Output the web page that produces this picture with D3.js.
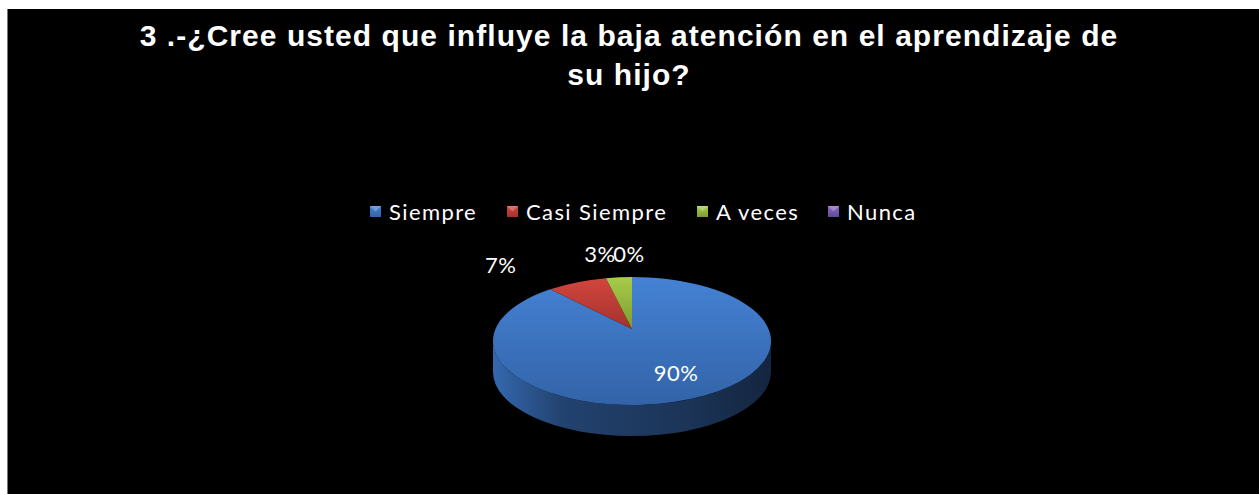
<!DOCTYPE html>
<html>
<head>
<meta charset="utf-8">
<script src="https://cdn.jsdelivr.net/npm/d3@7"></script>
<style>
  body { margin: 0; background: #fff; }
  svg { display: block; }
</style>
</head>
<body>
<div id="chart"></div>
<script>
var categories = ["Siempre", "Casi Siempre", "A veces", "Nunca"];
var values = [90, 7, 3, 0];
var titleLines = ["3 .-¿Cree usted que influye la baja atención en el aprendizaje de", "su hijo?"];

var svgW = 1259;
var svgH = 494;

var svg = d3.select("#chart")
  .append("svg")
  .attr("width", svgW)
  .attr("height", svgH);

var defs = svg.append("defs");

// black chart area, with thin grey edge on the left
svg.append("rect")
  .attr("x", 7).attr("y", 9)
  .attr("width", svgW - 7).attr("height", svgH - 9)
  .attr("fill", "#000");
svg.append("line")
  .attr("x1", 7.5).attr("x2", 7.5)
  .attr("y1", 9).attr("y2", svgH)
  .attr("stroke", "#777").attr("stroke-width", 1);

// title
svg.append("g").selectAll("text")
  .data(titleLines)
  .enter()
  .append("text")
  .attr("x", 629)
  .attr("y", (d, i) => 46 + i * 39)
  .attr("text-anchor", "middle")
  .attr("fill", "#fff")
  .attr("font-family", "Liberation Sans, Arial, sans-serif")
  .attr("font-weight", "bold")
  .attr("font-size", "30px")
  .attr("letter-spacing", "1.05px")
  .text(d => d);

var colors = d3.scaleOrdinal()
  .domain(categories)
  .range([
    ["#4582d4", "#3263a8"],
    ["#d2463f", "#a3322c"],
    ["#a8cc4a", "#7d9c30"],
    ["#8a68c0", "#63489a"]
  ]);

categories.forEach(function(c, i) {
  var g = defs.append("linearGradient")
    .attr("id", "grad" + i)
    .attr("x1", 0).attr("y1", 0).attr("x2", 0).attr("y2", 1);
  g.append("stop").attr("offset", "0%").attr("stop-color", colors(c)[0]);
  g.append("stop").attr("offset", "100%").attr("stop-color", colors(c)[1]);
});

// side gradient (front wall of the 3d pie)
var side = defs.append("linearGradient")
  .attr("id", "sideGrad")
  .attr("x1", 0).attr("y1", 0).attr("x2", 1).attr("y2", 0);
side.append("stop").attr("offset", "0%").attr("stop-color", "#3468ae");
side.append("stop").attr("offset", "25%").attr("stop-color", "#22426f");
side.append("stop").attr("offset", "70%").attr("stop-color", "#1b3457");
side.append("stop").attr("offset", "100%").attr("stop-color", "#14253f");

// legend
var legendFont = "Lato, 'Noto Sans', sans-serif";
var legend = svg.append("g");
var legendX = [370, 507, 697, 828];
categories.forEach(function(c, i) {
  var item = legend.append("g")
    .attr("transform", `translate(${legendX[i]}, 206)`);
  item.append("rect")
    .attr("width", 11).attr("height", 11)
    .attr("fill", "url(#grad" + i + ")");
  item.append("path")
    .attr("d", "M0,0 L11,0 L5.5,5.5 Z")
    .attr("fill", "#fff").attr("opacity", 0.25);
  item.append("text")
    .attr("x", 19)
    .attr("y", 14)
    .attr("fill", "#fff")
    .attr("font-family", legendFont)
    .attr("font-size", "22px")
    .attr("letter-spacing", "1.4px")
    .text(c);
});

// 3d pie
var cx = 632, cy = 341, rx = 139, ry = 64, depth = 31;
var apexY = 329;

function pt(a) {
  return [cx + rx * Math.sin(a), cy - ry * Math.cos(a)];
}

var pie = d3.pie().sort(null).value(d => d)(values);

var pieG = svg.append("g");

pieG.append("path")
  .attr("d", `M${cx - rx},${cy} A${rx},${ry} 0 0 0 ${cx + rx},${cy} L${cx + rx},${cy + depth} A${rx},${ry} 0 0 1 ${cx - rx},${cy + depth} Z`)
  .attr("fill", "url(#sideGrad)");

pieG.selectAll("path.slice")
  .data(pie.filter(d => d.value > 0))
  .enter()
  .append("path")
  .attr("class", "slice")
  .attr("d", function(d) {
    var p0 = pt(d.startAngle);
    var p1 = pt(d.endAngle);
    var large = d.endAngle - d.startAngle > Math.PI ? 1 : 0;
    return `M${cx},${apexY} L${p0[0]},${p0[1]} A${rx},${ry} 0 ${large} 1 ${p1[0]},${p1[1]} Z`;
  })
  .attr("fill", d => "url(#grad" + d.index + ")");

// data labels, nudged from the mid-angle rim point like excel's best fit
var labelShift = [[1, -21], [-76, -9], [-19, -15], [-3, -15]];
pieG.selectAll("text")
  .data(pie)
  .enter()
  .append("text")
  .attr("x", function(d) {
    var a = (d.startAngle + d.endAngle) / 2;
    return pt(a)[0] + labelShift[d.index][0];
  })
  .attr("y", function(d) {
    var a = (d.startAngle + d.endAngle) / 2;
    return pt(a)[1] + labelShift[d.index][1];
  })
  .attr("text-anchor", "middle")
  .attr("fill", "#fff")
  .attr("font-family", legendFont)
  .attr("font-size", "22px")
  .attr("letter-spacing", "0.5px")
  .text(d => Math.round(d.value) + "%");
</script>
</body>
</html>
